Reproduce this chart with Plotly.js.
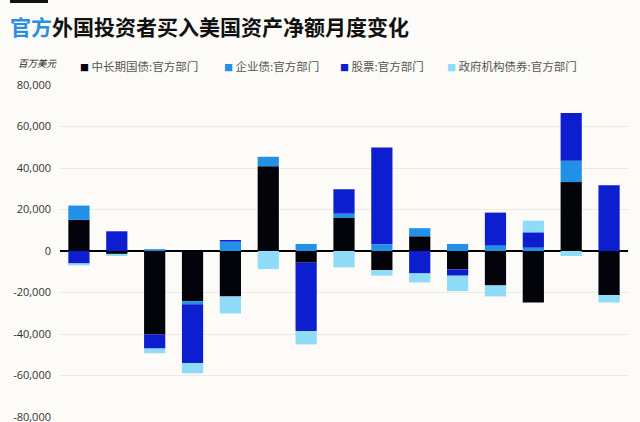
<!DOCTYPE html>
<html>
<head>
<meta charset="utf-8">
<script src="https://cdn.plot.ly/plotly-3.0.1.min.js"></script>
<style>
  html, body { margin: 0; padding: 0; background: #fcfbf7; }
  #chart { width: 640px; height: 422px; }
</style>
</head>
<body>
<div id="chart"></div>
<script>
//Monthly net purchases of US assets by official foreign investors (million USD)
//15 months, no x labels in the source picture
var months = [1, 2, 3, 4, 5, 6, 7, 8, 9, 10, 11, 12, 13, 14, 15];

var seriesNames = ["中长期国债:官方部门", "企业债:官方部门", "股票:官方部门", "政府机构债券:官方部门"];
var seriesColors = ["#03030a", "#2190e6", "#0d1ed0", "#8edcf7"];

var treasury = [15000, -1400, -40200, -24200, -21900, 40900, -5600, 15900, -9200, 7100, -8850, -16600, -24800, 33200, -21250];
var corporate = [6900, 0, 900, -1450, 4500, 4500, 3400, 2100, 3200, 3900, 3400, 2600, 1600, 10300, 0];
var stocks = [-6000, 9500, -6800, -28300, 800, 0, -33000, 11750, 46700, -10800, -3050, 15900, 7400, 23000, 31700];
var agency = [-900, -1000, -2250, -5000, -8200, -8700, -6400, -7900, -2700, -4350, -7400, -5300, 5600, -2400, -3550];

var tickVals = [80000, 60000, 40000, 20000, 0, -20000, -40000, -60000, -80000];
var tickText = ["80,000", "60,000", "40,000", "20,000", "0", "-20,000", "-40,000", "-60,000", "-80,000"];

var values = [treasury, corporate, stocks, agency];
var data = [];
for (var i = 0; i < values.length; i++) {
    data.push({
        type: 'bar', x: months, y: values[i], name: seriesNames[i],
        marker: {color: seriesColors[i], line: {width: 0}},
        hoverinfo: 'none'
    });
}

//Plot area in pixels: left 60, right 628, top 85, bottom 417
function px2x(p) { return (p - 60) / 568; }
function px2y(p) { return 1 + (85 - p) / 332; }

//Hand built legend so the small squares sit like the original
var legendX = [78, 222, 338, 445];
var annotations = [];
for (var i = 0; i < seriesNames.length; i++) {
    annotations.push({
        xref: 'paper', yref: 'paper', x: px2x(legendX[i]), y: px2y(66),
        xanchor: 'left', yanchor: 'middle', showarrow: false,
        text: "<span style='color:" + seriesColors[i] + ";font-size:9px'>■</span> " + seriesNames[i],
        font: {family: 'Noto Sans CJK SC, sans-serif', size: 11.5, color: '#555'}
    });
}
annotations.push({
    xref: 'paper', yref: 'paper', x: px2x(16), y: px2y(63),
    xanchor: 'left', yanchor: 'middle', showarrow: false,
    text: "<i>百万美元</i>",
    font: {family: 'Noto Sans CJK SC, sans-serif', size: 9.5, color: '#222'}
});

var layout = {
    width: 640, height: 422,
    paper_bgcolor: '#fcfbf7', plot_bgcolor: '#fcfbf7',
    margin: {l: 60, r: 12, t: 85, b: 5},
    barmode: 'relative', bargap: 0.44,
    showlegend: false,
    title: {
        text: "<b><span style='color:#2a8fe0'>官方</span>外国投资者买入美国资产净额月度变化</b>",
        x: 10 / 640, xanchor: 'left', xref: 'container',
        y: 1 - 28 / 422, yanchor: 'middle', yref: 'container',
        font: {family: 'Noto Sans CJK SC, sans-serif', size: 21, color: '#111'}
    },
    xaxis: {
        range: [0.5, 15.5], showticklabels: false, showgrid: false,
        zeroline: false, showline: false, ticks: ''
    },
    yaxis: {
        range: [-80000, 80000], tickvals: tickVals, ticktext: tickText,
        showgrid: true, gridcolor: '#ebeae4', gridwidth: 1,
        zeroline: true, zerolinecolor: '#000', zerolinewidth: 1.5,
        ticks: '', ticklabelstandoff: 8, ticklabeloverflow: 'allow',
        tickfont: {family: 'Open Sans, sans-serif', size: 11, color: '#333'}
    },
    shapes: [{
        type: 'rect', xref: 'paper', yref: 'paper',
        x0: px2x(10), x1: px2x(48), y0: px2y(3), y1: px2y(0),
        fillcolor: '#111', line: {width: 0}
    }],
    annotations: annotations
};

Plotly.newPlot('chart', data, layout, {displayModeBar: false, staticPlot: true});
</script>
</body>
</html>
